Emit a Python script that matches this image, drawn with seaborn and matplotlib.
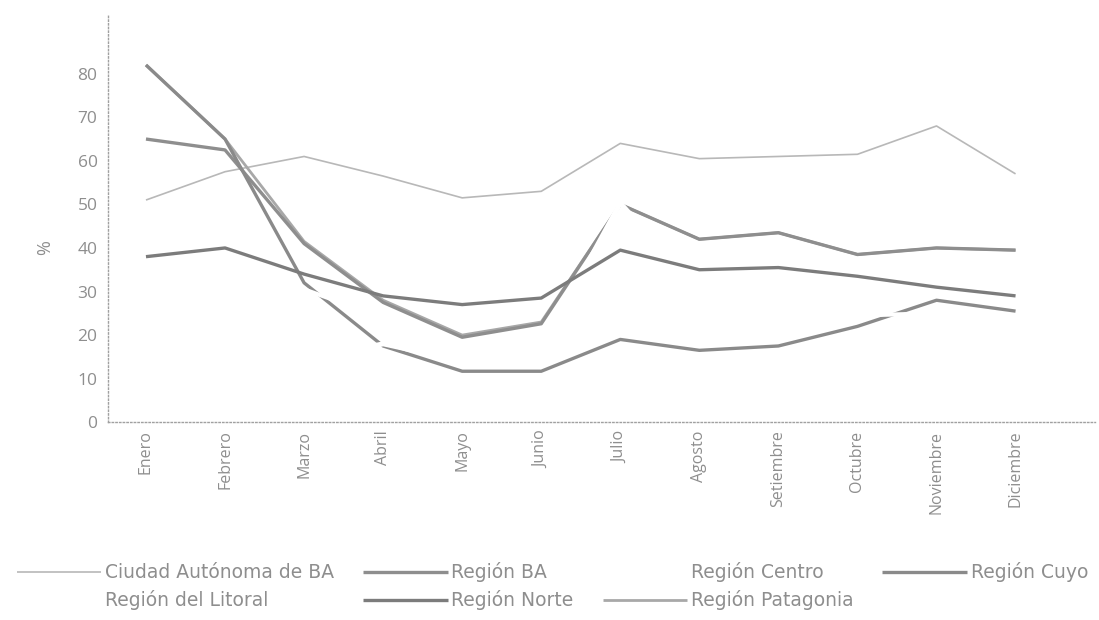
import matplotlib
matplotlib.use("Agg")
import matplotlib.pyplot as plt
import seaborn as sns
import pandas as pd

months = ["Enero", "Febrero", "Marzo", "Abril", "Mayo", "Junio", "Julio",
          "Agosto", "Setiembre", "Octubre", "Noviembre", "Diciembre"]
y_ticks = [0, 10, 20, 30, 40, 50, 60, 70, 80]

ciudad_autonoma_ba = [51, 57.5, 61, 56.5, 51.5, 53, 64, 60.5, 61, 61.5, 68, 57]
region_ba = [65, 62.5, 41, 27.5, 19.5, 22.6, 50, 42, 43.5, 38.5, 40, 39.5]
region_centro = [10, 12, 14, 18, 14, 17, 50.3, 30, 30, 30, 34, 33]
region_cuyo = [82, 65, 32, 17.5, 11.7, 11.7, 19, 16.5, 17.5, 22, 28, 25.5]
region_litoral = [28, 30, 30.5, 24, 15, 16, 25, 24, 24, 24.5, 25, 22]
region_norte = [38, 40, 34, 29, 27, 28.5, 39.5, 35, 35.5, 33.5, 31, 29]
region_patagonia = [82, 65, 41.5, 28, 20, 23, 50, 42, 43.5, 38.5, 40, 39.5]

series = {
    "Ciudad Autónoma de BA": ciudad_autonoma_ba,
    "Región BA": region_ba,
    "Región Centro": region_centro,
    "Región Cuyo": region_cuyo,
    "Región del Litoral": region_litoral,
    "Región Norte": region_norte,
    "Región Patagonia": region_patagonia,
}
styles = {
    "Ciudad Autónoma de BA": dict(color="#b8b8b8", lw=1.2, z=2.0),
    "Región BA": dict(color="#8e8e8e", lw=2.4, z=2.2),
    "Región Centro": dict(color="#ffffff", lw=3.6, z=3.0),
    "Región Cuyo": dict(color="#8a8a8a", lw=2.4, z=2.3),
    "Región del Litoral": dict(color="#ffffff", lw=3.0, z=3.1),
    "Región Norte": dict(color="#7c7c7c", lw=2.4, z=4.0),
    "Región Patagonia": dict(color="#a8a8a8", lw=2.0, z=2.1),
}

rows = []
for name, vals in series.items():
    for i, v in enumerate(vals):
        rows.append({"serie": name, "mes": i, "valor": v})
df = pd.DataFrame(rows)

sns.set_style("white")
plt.rcParams["font.family"] = ["Open Sans", "DejaVu Sans"]
txt = "#8e8e8e"

fig = plt.figure(figsize=(10.99, 6.2), dpi=100)
ax = fig.add_axes([0.0983, 0.319, 0.8977, 0.657])

handles = {}
for name in series:
    st = styles[name]
    sub = df[df["serie"] == name]
    sns.lineplot(data=sub, x="mes", y="valor", ax=ax, color=st["color"],
                 linewidth=st["lw"], zorder=st["z"], label=name, legend=False)
    line = ax.lines[-1]
    line.set_solid_capstyle("butt")
    handles[name] = line

ax.set_xlim(-0.48, 12.0)
ax.set_ylim(0, 93.5)
ax.set_xticks(range(len(months)))
ax.set_xticklabels(months, rotation=90, color=txt, fontsize=11.5)
ax.set_yticks(y_ticks)
ax.set_yticklabels([str(t) for t in y_ticks], color=txt, fontsize=12.5)
ax.tick_params(axis="y", direction="inout", length=9, width=0.8, color="#b0b0b0", pad=3)
ax.tick_params(axis="x", length=0, pad=6)
ax.set_xlabel("")
ax.set_ylabel("%", color=txt, fontsize=13)
ax.yaxis.set_label_coords(-0.055, 0.43)

for side in ["top", "right"]:
    ax.spines[side].set_visible(False)
for side in ["left", "bottom"]:
    ax.spines[side].set_linestyle(":")
    ax.spines[side].set_color("#a0a0a0")
    ax.spines[side].set_linewidth(1.0)

order = ["Ciudad Autónoma de BA", "Región del Litoral", "Región BA", "Región Norte",
         "Región Centro", "Región Patagonia", "Región Cuyo"]
leg = fig.legend([handles[n] for n in order], order, ncol=4, frameon=False,
                 loc="upper left", bbox_to_anchor=(0.0, 0.12),
                 prop={"family": "DejaVu Sans", "size": 13.5},
                 handlelength=4.5, handletextpad=0.2,
                 columnspacing=1.55, labelspacing=0.42, labelcolor=txt)

fig.savefig("out.png", dpi=100)
